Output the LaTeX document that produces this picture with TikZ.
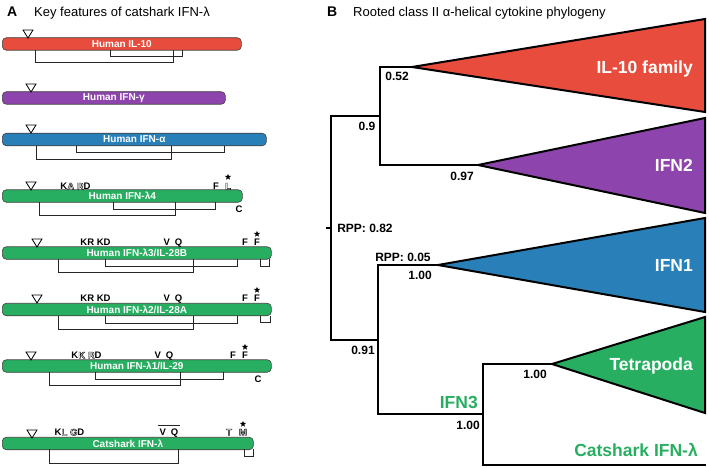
\documentclass[tikz,border=0pt]{standalone}
\usepackage{fontspec}
\setmainfont{Liberation Sans}
\usetikzlibrary{positioning, shapes.geometric}

\definecolor{ilred}{RGB}{231,76,60}
\definecolor{ifnpurple}{RGB}{142,68,173}
\definecolor{ifnblue}{RGB}{41,128,185}
\definecolor{ifngreen}{RGB}{39,174,96}

% outlined residue letters
\newcommand{\hollowres}[1]{\special{pdf:code 1 Tr 0.4 w}#1\special{pdf:code 0 Tr}}
% signal peptide cleavage marker
\newcommand{\cleave}[2]{\draw[cleavetri] ({#1-5},{#2-8}) -- ({#1+5},{#2-8}) -- (#1,#2) -- cycle;}
% disulfide bracket below a bar
\newcommand{\disulfide}[4]{\draw[bond] (#1,#2) |- (#3,#4) -- (#3,#2);}

\tikzset{
  bar/.style={draw=black!75, line width=0.6pt, rounded corners=4pt,
    minimum height=12.5pt, inner sep=0pt, anchor=west, text=white,
    font=\fontsize{10}{10}\selectfont\bfseries},
  cleavetri/.style={draw=black, fill=white, line width=0.8pt, line join=miter},
  bond/.style={draw=black!85, line width=1pt},
  residue/.style={inner sep=0pt, anchor=base, font=\fontsize{9.5}{10}\selectfont\bfseries},
  resstar/.style={star, star points=5, star point ratio=2.3, fill=black, inner sep=0pt, minimum size=6.5pt},
  branch/.style={draw=black, line width=2pt, line cap=rect},
  clade/.style={draw=black, line width=2pt, line join=miter},
  support/.style={inner sep=0pt, font=\fontsize{12}{12}\selectfont\bfseries},
  cladelabel/.style={inner sep=0pt, anchor=base east, text=white, font=\fontsize{17.5}{18}\selectfont\bfseries},
  greenlabel/.style={inner sep=0pt, anchor=base east, text=ifngreen, font=\fontsize{17.5}{18}\selectfont\bfseries},
  panel/.style={inner sep=0pt, anchor=base west, font=\fontsize{14}{14}\selectfont\bfseries},
  paneltitle/.style={inner sep=0pt, anchor=base west, font=\fontsize{13}{13}\selectfont},
}

\begin{document}
\begin{tikzpicture}[x=1pt, y=-1pt]
  \useasboundingbox (0,0) rectangle (709,468);

  % panel A
  \node[panel] (labA) at (7,17) {A};
  \node[paneltitle] (titA) at (34,17) {Key features of catshark IFN-λ};

  \node[bar, fill=ilred, minimum width=239pt] (il10) at (2,44) {Human IL-10};
  \cleave{28}{38}
  \disulfide{35}{50}{173}{63}
  \disulfide{110}{50}{182}{57}

  \node[bar, fill=ifnpurple, minimum width=223pt] (ifng) at (2,98) {Human IFN-γ};
  \cleave{31}{92}

  \node[bar, fill=ifnblue, minimum width=264pt] (ifna) at (2,139.5) {Human IFN-α};
  \cleave{31}{133}
  \disulfide{36}{146}{171}{159}
  \disulfide{76}{146}{224}{152}

  \node[bar, fill=ifngreen, minimum width=240pt] (lam4) at (2,196) {Human IFN-λ4};
  \cleave{31}{190}
  \disulfide{39}{202}{175}{215}
  \disulfide{113}{202}{215}{209}
  \node[residue] (r4a) at (75.5,189.5) {K\hollowres{A} \hollowres{R}D};
  \node[residue] (r4b) at (216,189.5) {F};
  \node[residue] (r4c) at (228,189.5) {\hollowres{L}};
  \node[resstar] (s4) at (228,177) {};
  \node[residue] (r4d) at (239,212) {C};

  \node[bar, fill=ifngreen, minimum width=269pt] (lam3) at (2,253) {Human IFN-λ3/IL-28B};
  \cleave{37}{247}
  \disulfide{58}{259}{193}{272}
  \disulfide{105}{259}{237}{266}
  \disulfide{260}{259}{269}{266}
  \node[residue] (r3a) at (95.5,245.5) {KR KD};
  \node[residue] (r3b) at (173,245.5) {V\hspace{5pt}Q};
  \node[residue] (r3c) at (245,245.5) {F};
  \node[residue] (r3d) at (257,245.5) {F};
  \node[resstar] (s3) at (257,234) {};

  \node[bar, fill=ifngreen, minimum width=269pt] (lam2) at (2,309.5) {Human IFN-λ2/IL-28A};
  \cleave{37}{303}
  \disulfide{58}{316}{193}{329}
  \disulfide{105}{316}{237}{323}
  \disulfide{260}{316}{270}{322}
  \node[residue] (r2a) at (95.5,301.5) {KR KD};
  \node[residue] (r2b) at (173,301.5) {V\hspace{5pt}Q};
  \node[residue] (r2c) at (245,301.5) {F};
  \node[residue] (r2d) at (257,301.5) {F};
  \node[resstar] (s2) at (257,290) {};

  \node[bar, fill=ifngreen, minimum width=269pt] (lam1) at (2,366) {Human IFN-λ1/IL-29};
  \cleave{31}{360}
  \disulfide{49}{372}{180}{385}
  \disulfide{95}{372}{223}{379}
  \node[residue] (r1a) at (86.5,358.5) {K\hollowres{K} \hollowres{R}D};
  \node[residue] (r1b) at (164,358.5) {V\hspace{5pt}Q};
  \node[residue] (r1c) at (233,358.5) {F};
  \node[residue] (r1d) at (245,358.5) {F};
  \node[resstar] (s1) at (245,347) {};
  \node[residue] (r1e) at (258,382) {C};

  \node[bar, fill=ifngreen, minimum width=251pt] (cat) at (2,443.5) {Catshark IFN-λ};
  \cleave{32}{438}
  \disulfide{49}{449}{178}{463}
  \disulfide{244}{449}{253}{456}
  \node[residue] (rca) at (69.5,435.5) {K\hollowres{L} \hollowres{G}D};
  \node[residue] (rcb) at (169,435.5) {V\hspace{5pt}Q};
  \draw[bond] (rcb.north west) ++(-1,-3) -- ([xshift=1pt, yshift=3pt]rcb.north east);
  \node[residue] (rcc) at (229,435.5) {\hollowres{T}};
  \node[residue] (rcd) at (243,435.5) {\hollowres{M}};
  \node[resstar] (sc) at (243,424) {};

  % panel B
  \node[panel] (labB) at (327,17) {B};
  \node[paneltitle] (titB) at (353,17) {Rooted class II α-helical cytokine phylogeny};

  % clades
  \draw[clade, fill=ilred] (412,67) coordinate (il10apex) -- (705,19) -- (705,112) -- cycle;
  \draw[clade, fill=ifnpurple] (478,165) coordinate (ifn2apex) -- (705,118) -- (705,213) -- cycle;
  \draw[clade, fill=ifnblue] (438,265) coordinate (ifn1apex) -- (705,218) -- (705,312) -- cycle;
  \draw[clade, fill=ifngreen] (552,364) coordinate (tetraapex) -- (705,317) -- (705,413) -- cycle;

  % tree nodes
  \coordinate (stub) at (327,228);
  \coordinate (root) at (331,228);
  \coordinate (rtop) at (331,116);
  \coordinate (rbot) at (331,340);
  \coordinate (n09) at (380,116);
  \coordinate (n091) at (378,340);
  \coordinate (n100) at (483,414);
  \coordinate (catend) at (705,465);

  \draw[branch] (stub) -- (root);
  \draw[branch] (rtop) -- (rbot);
  \draw[branch] (rtop) -- (n09);
  \draw[branch] (il10apex) -| (n09) |- (ifn2apex);
  \draw[branch] (rbot) -- (n091);
  \draw[branch] (ifn1apex) -| (n091) |- (n100);
  \draw[branch] (tetraapex) -| (n100) |- (catend);

  % support values
  \node[support] (v052) at (397,76) {0.52};
  \node[support] (v09) at (367,126) {0.9};
  \node[support] (v097) at (462,176) {0.97};
  \node[support] (rpp082) at (365,228) {RPP: 0.82};
  \node[support] (rpp005) at (403,257) {RPP: 0.05};
  \node[support] (v100a) at (420,275) {1.00};
  \node[support] (v091) at (363,350) {0.91};
  \node[support] (v100b) at (468,425) {1.00};
  \node[support] (v100c) at (535,374) {1.00};

  % clade labels
  \node[cladelabel] (lil10) at (693,73.5) {IL-10 family};
  \node[cladelabel] (lifn2) at (693,171.5) {IFN2};
  \node[cladelabel] (lifn1) at (693,271.5) {IFN1};
  \node[cladelabel] (ltetra) at (693,370.5) {Tetrapoda};
  \node[greenlabel] (lifn3) at (478,408) {IFN3};
  \node[greenlabel] (lcat) at (698,456) {Catshark IFN-λ};
\end{tikzpicture}
\end{document}
